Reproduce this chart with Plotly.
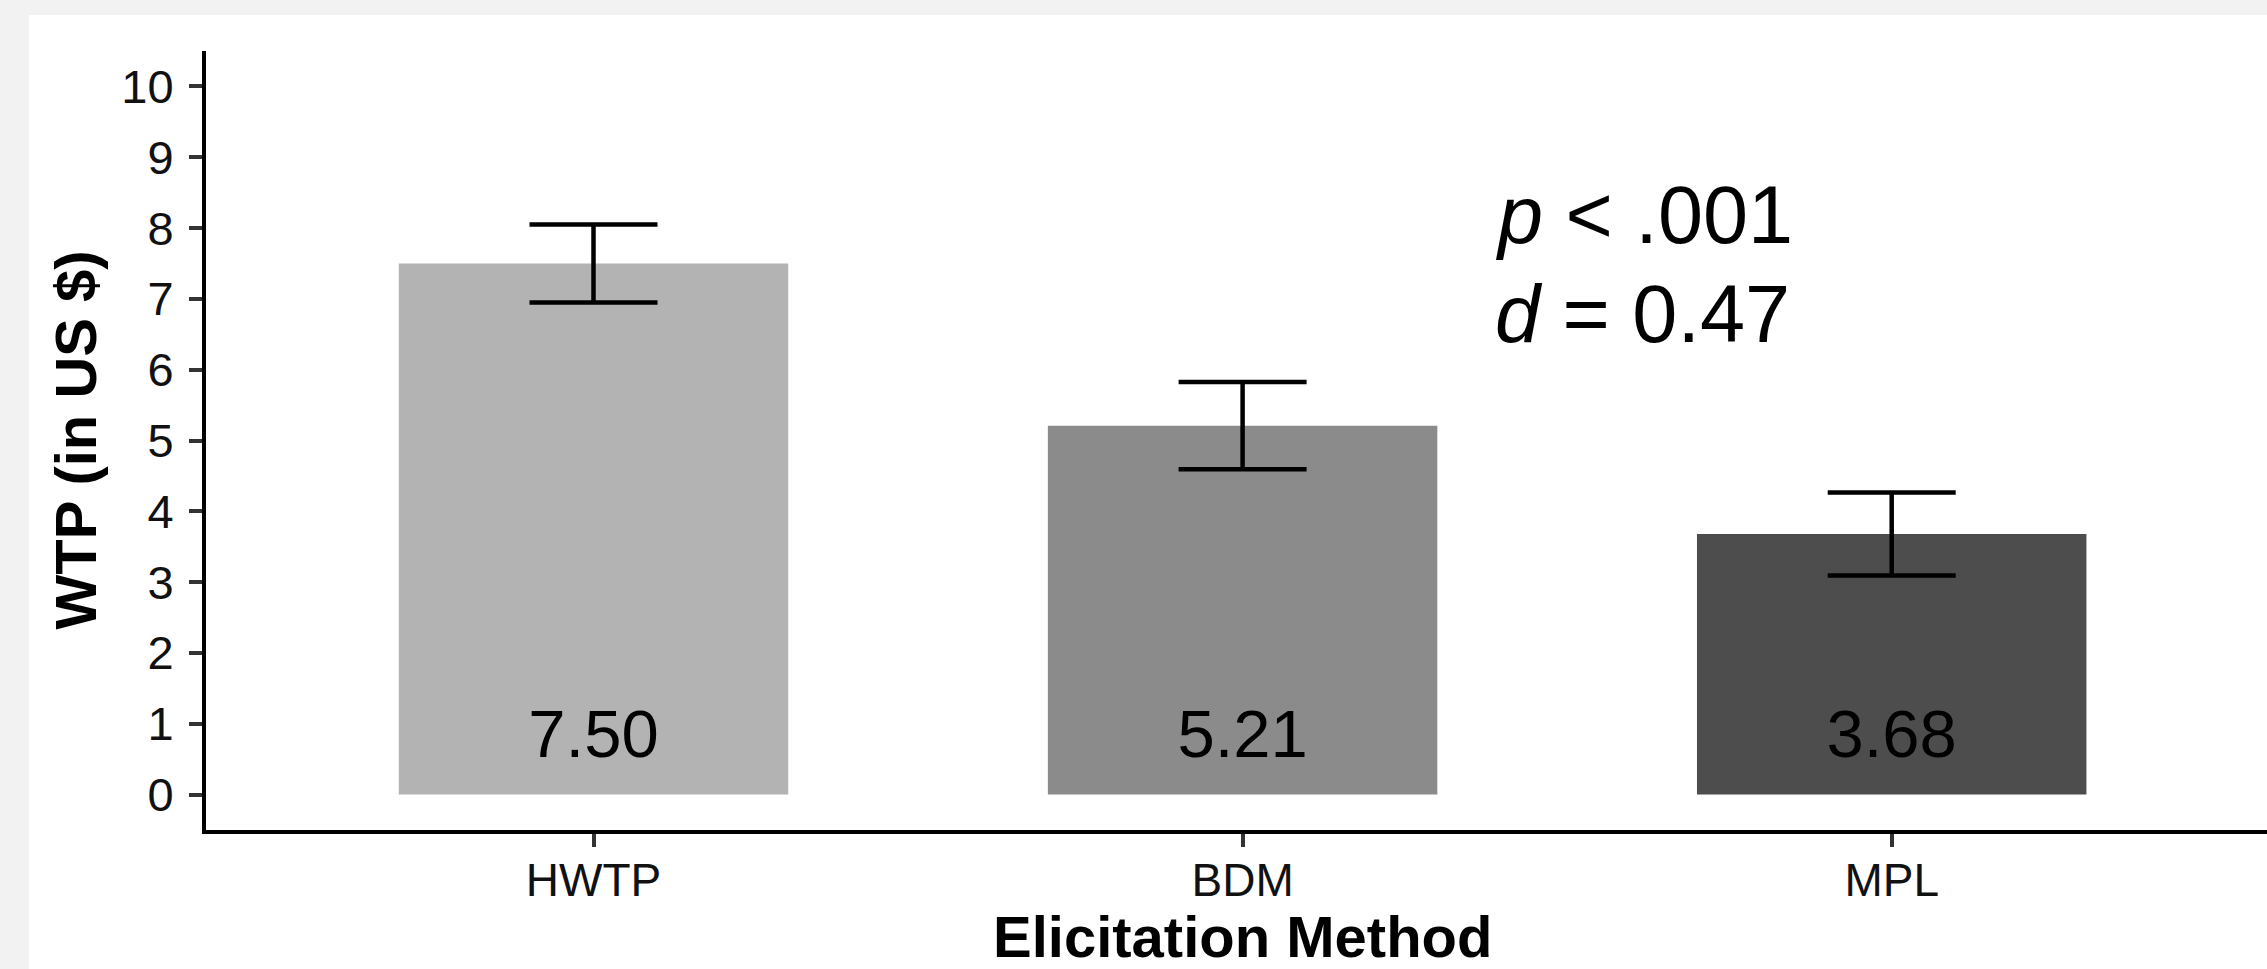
import plotly.graph_objects as go

# ---- data ----
categories = ["HWTP", "BDM", "MPL"]
means = [7.50, 5.21, 3.68]
errors = [0.55, 0.615, 0.585]
bar_labels = ["7.50", "5.21", "3.68"]
bar_colors = ["#B3B3B3", "#8B8B8B", "#4D4D4D"]
y_ticks = [0, 1, 2, 3, 4, 5, 6, 7, 8, 9, 10]
label_y = 0.77
stat_lines = ["<i>p</i> < .001", "<i>d</i> = 0.47"]
stat_x = 1.385
stat_y = [8.19, 6.79]

FONT = "Liberation Sans, Arial, Helvetica, sans-serif"
W, H = 2267, 969
ML, MR, MT, MB = 206, 0, 51, 139

x_pos = list(range(len(categories)))
x_unit = 649.1
x_min = -(593.5 - ML) / x_unit
x_max = x_min + (W - ML - MR) / x_unit

fig = go.Figure()
fig.add_trace(go.Bar(
    x=x_pos, y=means, width=0.6,
    marker=dict(color=bar_colors, line=dict(width=0)),
    error_y=dict(type="data", array=errors, visible=True,
                 color="black", thickness=4.5, width=64),
    hoverinfo="skip", showlegend=False,
))
fig.add_trace(go.Scatter(
    x=x_pos, y=[label_y] * len(x_pos), mode="text", text=bar_labels,
    textposition="middle center",
    textfont=dict(family=FONT, size=67, color="black"),
    hoverinfo="skip", showlegend=False,
))

annotations = []
for line, yy in zip(stat_lines, stat_y):
    annotations.append(dict(
        x=stat_x, y=yy, xref="x", yref="y", text=line, showarrow=False,
        xanchor="left", yanchor="middle",
        font=dict(family=FONT, size=81, color="black"),
    ))
annotations.append(dict(
    x=1, y=0, xref="x", yref="paper", text="<b>Elicitation Method</b>",
    showarrow=False, xanchor="center", yanchor="middle", yshift=-106,
    font=dict(family=FONT, size=58, color="black"),
))
annotations.append(dict(
    x=0, y=0.5, xref="paper", yref="paper", text="<b>WTP (in US $)</b>",
    showarrow=False, xanchor="center", yanchor="middle", xshift=-131,
    textangle=-90,
    font=dict(family=FONT, size=58, color="black"),
))

fig.update_layout(
    width=W, height=H,
    margin=dict(l=ML, r=MR, t=MT, b=MB, autoexpand=False),
    paper_bgcolor="#F2F2F2", plot_bgcolor="white",
    font=dict(family=FONT, color="black"),
    annotations=annotations,
    shapes=[dict(type="rect", xref="paper", yref="paper",
                 x0=(29 - ML) / (W - ML - MR), x1=1.01,
                 y0=-(MB + 5) / (H - MT - MB), y1=1 + (MT - 15) / (H - MT - MB),
                 fillcolor="white", line=dict(width=0), layer="below")],
    xaxis=dict(
        range=[x_min, x_max], tickmode="array", tickvals=x_pos, ticktext=categories,
        showline=True, linecolor="black", linewidth=4,
        ticks="outside", ticklen=13, tickwidth=3.5, tickcolor="#333333",
        tickfont=dict(family=FONT, size=46, color="#111111"),
        ticklabelstandoff=-6,
        showgrid=False, zeroline=False, automargin=False,
    ),
    yaxis=dict(
        range=[-0.5, 10.5], tickmode="array", tickvals=y_ticks,
        showline=True, linecolor="black", linewidth=4,
        ticks="outside", ticklen=13, tickwidth=3.5, tickcolor="#333333",
        tickfont=dict(family=FONT, size=47, color="#111111"),
        ticklabelstandoff=6,
        showgrid=False, zeroline=False, automargin=False,
    ),
)

fig.write_html("out.html")
